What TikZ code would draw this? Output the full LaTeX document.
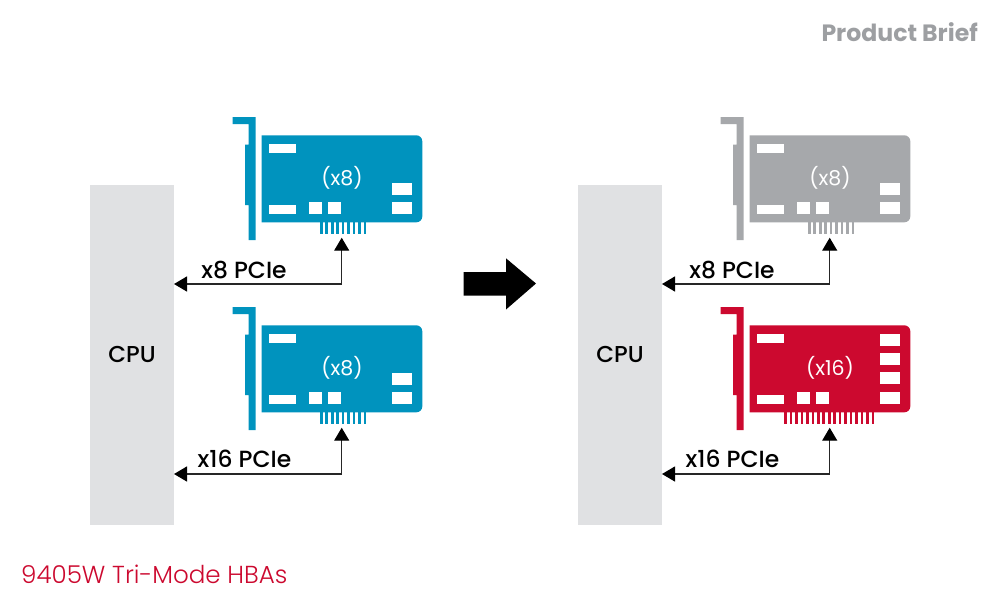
\documentclass[tikz,border=0pt]{standalone}
\usepackage{fontspec}
\setmainfont{Poppins}
\newfontfamily\medfont{Poppins Medium}
\newfontfamily\lightfont{Poppins Light}
\usetikzlibrary{arrows.meta}
\definecolor{cardblue}{HTML}{0093BE}
\definecolor{cardgray}{HTML}{A6A8AB}
\definecolor{briefgray}{HTML}{9D9FA2}
\definecolor{cardred}{HTML}{CC092F}
\definecolor{cpugray}{HTML}{E0E1E3}
\tikzset{
  cpubox/.style={fill=cpugray,draw=none,minimum width=84pt,minimum height=340pt,inner sep=0pt},
  cpulabel/.style={font=\fontsize{23}{25}\medfont,text=black,inner sep=0pt},
  pcielabel/.style={font=\fontsize{23.4}{25}\medfont,text=black,inner sep=0pt,anchor=base},
  link/.style={draw=black!85,line width=1.3pt,-{Triangle[length=13pt,width=15pt,color=black]}},
  pad/.style={fill=white,draw=none}
}
% One add-in card: bracket, board, pads, edge connector and lane label.
\newcommand{\pciecard}[5]{% x, y, colour, name, label
  \begin{scope}[shift={(#1,#2)}]
    \fill[#3] (232.5,117) -- (255.7,117) -- (255.7,240) -- (248.7,240) -- (248.7,205) -- (245,205) -- (245,144.5) -- (248.7,144.5) -- (248.7,124) -- (232.5,124) -- cycle;
    \fill[#3] (261.7,135.3) -- (416.3,135.3) arc[start angle=90,end angle=0,x radius=6,y radius=-6] -- (422.3,216.3) arc[start angle=0,end angle=-90,x radius=6,y radius=-6] -- (261.7,222.3) -- cycle;
    \fill[pad] (269.3,143.7) rectangle (295.7,152.7);
    \fill[pad] (269.3,205) rectangle (295.7,214.3);
    \fill[pad] (309.3,202) rectangle (322,214.3);
    \fill[pad] (328,202) rectangle (340.7,214.3);
    \coordinate (#4) at (341.7,237.7);
    \node[text=white,font=\fontsize{20.5}{22}\selectfont,inner sep=0pt] (#4label) at (342,178) {#5};
  \end{scope}
}
% Row of edge-connector fingers below a board.
\newcommand{\fingers}[5]{% x, y, colour, first x, count
  \begin{scope}[shift={(#1,#2)}]
    \foreach \i in {1,...,#5} \fill[#3] ({#4+(\i-1)*5.45},222) rectangle ({#4+(\i-1)*5.45+2.6},234);
  \end{scope}
}
% Pads on the right-hand side of a board.
\newcommand{\sidepads}[3]{% x, y, list of top edges
  \begin{scope}[shift={(#1,#2)}]
    \foreach \t in {#3} \fill[pad] (391.5,\t) rectangle (412,\t+12);
  \end{scope}
}
\begin{document}
\begin{tikzpicture}[x=1pt,y=-1pt]
\useasboundingbox (0,0) rectangle (1000,590);
\fill[white] (0,0) rectangle (1000,590);

\node[font=\fontsize{23.6}{25}\selectfont\bfseries,text=briefgray,inner sep=0pt,anchor=base east] (brief) at (978,41) {Product Brief};
\node[font=\fontsize{24.6}{26}\lightfont,text=cardred,inner sep=0pt,anchor=base west] (hba) at (21,583) {9405W Tri-Mode HBAs};

% Left system
\node[cpubox] (cpuA) at (132,355) {};
\node[cpulabel] (cpuAtext) at (132,354) {CPU};
\pciecard{0}{0}{cardblue}{portA}{(x8)}
\fingers{0}{0}{cardblue}{320}{9}
\sidepads{0}{0}{182.7,202}
\pciecard{0}{190}{cardblue}{portB}{(x8)}
\fingers{0}{190}{cardblue}{320}{9}
\sidepads{0}{190}{182.7,202}
\coordinate (entryA) at (174,284);
\coordinate (entryB) at (174,474);
\coordinate (kneeA) at (341.7,284);
\coordinate (kneeB) at (341.7,474);
\draw[link] (kneeA) -- (portA);
\draw[link] (kneeA) -- (entryA);
\draw[link] (kneeB) -- (portB);
\draw[link] (kneeB) -- (entryB);
\node[pcielabel] (labA) at (244,278) {x8 PCIe};
\node[pcielabel] (labB) at (244.5,467) {x16 PCIe};

% Transition arrow
\fill[black] (463.5,272) -- (506,272) -- (506,258.3) -- (536,283.5) -- (506,309.5) -- (506,295.5) -- (463.5,295.5) -- cycle;

% Right system
\node[cpubox] (cpuC) at (620,355) {};
\node[cpulabel] (cpuCtext) at (620,354) {CPU};
\pciecard{488}{0}{cardgray}{portC}{(x8)}
\fingers{488}{0}{cardgray}{320}{9}
\sidepads{488}{0}{182.7,202}
\pciecard{488}{190}{cardred}{portD}{(x16)}
\fingers{488}{190}{cardred}{296.3}{17}
\sidepads{488}{0}{333.7,353,372.3,391.7}
\coordinate (entryC) at (662,284);
\coordinate (entryD) at (662,474);
\coordinate (kneeC) at (829.7,284);
\coordinate (kneeD) at (829.7,474);
\draw[link] (kneeC) -- (portC);
\draw[link] (kneeC) -- (entryC);
\draw[link] (kneeD) -- (portD);
\draw[link] (kneeD) -- (entryD);
\node[pcielabel] (labC) at (732,278) {x8 PCIe};
\node[pcielabel] (labD) at (732.5,467) {x16 PCIe};
\end{tikzpicture}
\end{document}
